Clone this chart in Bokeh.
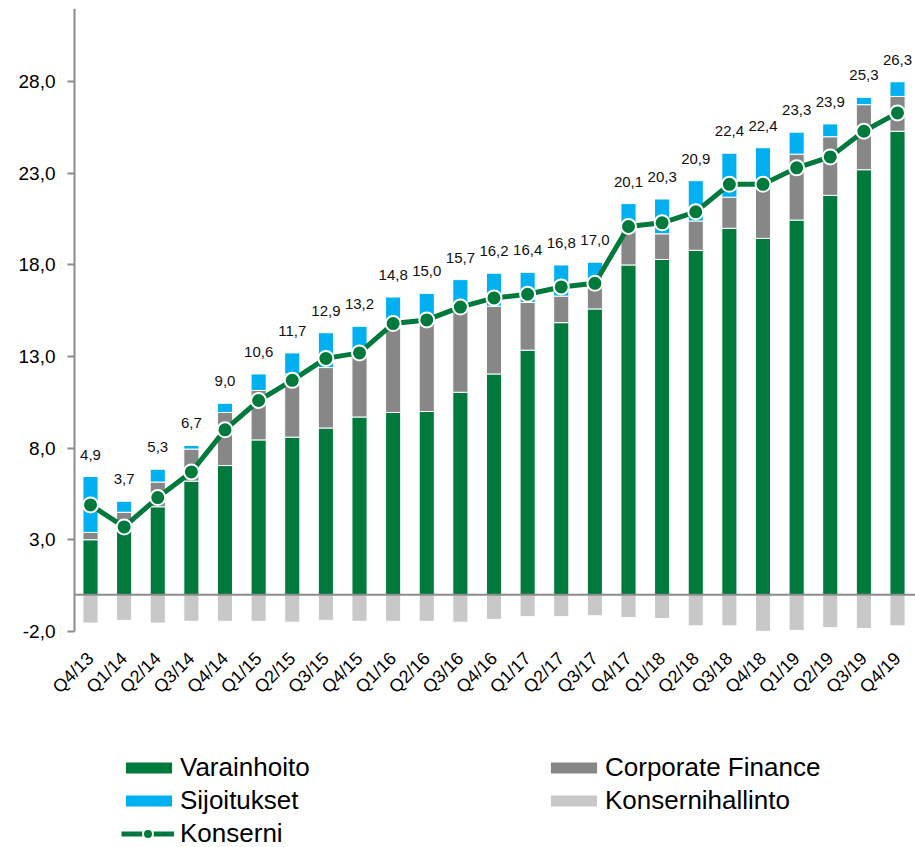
import math
import numpy as np
from bokeh.plotting import figure
from bokeh.models import Range1d, FixedTicker, Legend, LegendItem
from bokeh.core.properties import value
from bokeh.embed import file_html
from bokeh.resources import INLINE

quarters = ["Q4/13", "Q1/14", "Q2/14", "Q3/14", "Q4/14", "Q1/15", "Q2/15", "Q3/15",
            "Q4/15", "Q1/16", "Q2/16", "Q3/16", "Q4/16", "Q1/17", "Q2/17", "Q3/17",
            "Q4/17", "Q1/18", "Q2/18", "Q3/18", "Q4/18", "Q1/19", "Q2/19", "Q3/19", "Q4/19"]
varainhoito = [3.0, 4.0, 4.8, 6.2, 7.05, 8.45, 8.6, 9.1, 9.7, 9.95, 10.0, 11.05, 12.05,
               13.35, 14.85, 15.6, 18.0, 18.3, 18.8, 20.0, 19.45, 20.45, 21.8, 23.2, 25.3]
corporate_finance = [0.4, 0.5, 1.35, 1.75, 2.9, 2.7, 3.45, 3.3, 3.45, 4.7, 4.95, 4.6, 3.7,
                     2.6, 1.45, 1.25, 1.95, 1.4, 1.6, 1.7, 3.0, 3.6, 3.2, 3.55, 1.9]
sijoitukset = [3.05, 0.6, 0.7, 0.2, 0.5, 0.9, 1.15, 1.9, 1.5, 1.6, 1.5, 1.55, 1.8,
               1.65, 1.7, 1.3, 1.4, 1.9, 2.2, 2.4, 1.95, 1.2, 0.7, 0.4, 0.8]
konsernihallinto = [-1.55, -1.4, -1.55, -1.45, -1.45, -1.45, -1.5, -1.4, -1.45, -1.45, -1.45,
                    -1.5, -1.35, -1.2, -1.2, -1.15, -1.25, -1.3, -1.7, -1.7, -2.0, -1.95,
                    -1.8, -1.85, -1.7]
konserni = [4.9, 3.7, 5.3, 6.7, 9.0, 10.6, 11.7, 12.9, 13.2, 14.8, 15.0, 15.7, 16.2,
            16.4, 16.8, 17.0, 20.1, 20.3, 20.9, 22.4, 22.4, 23.3, 23.9, 25.3, 26.3]
y_ticks = [-2, 3, 8, 13, 18, 23, 28]
y_top = 32

GREEN = "#00793D"
GREY = "#878787"
BLUE = "#00B0F0"
LIGHT = "#C8C8C8"
AXIS = "#8C8C8C"
FONT = "Liberation Sans"

x = np.arange(len(quarters))
g = np.array(varainhoito)
c = np.array(corporate_finance)
s = np.array(sijoitukset)
k = np.array(konsernihallinto)
top_c = g + c
top_s = g + c + s
labels = [f"{v:.1f}".replace(".", ",") for v in konserni]

# category spacing ~33.6 px; y axis sits half a slot left of the first bar
axis_x = -0.476
x_start = axis_x - 74 / 33.625
x_end = 24.535

p = figure(width=915, height=847, x_range=Range1d(x_start, x_end), y_range=Range1d(-13.8, y_top),
           output_backend="svg", toolbar_location=None,
           min_border_left=0, min_border_right=0, min_border_top=8, min_border_bottom=0)
p.outline_line_color = None
p.xgrid.visible = False
p.ygrid.visible = False

bw = 0.45
rg = p.vbar(x=x, width=bw, bottom=0, top=g, fill_color=GREEN, line_color="white", line_width=1)
rc = p.vbar(x=x, width=bw, bottom=g, top=top_c, fill_color=GREY, line_color="white", line_width=1)
rs = p.vbar(x=x, width=bw, bottom=top_c, top=top_s, fill_color=BLUE, line_color="white", line_width=1)
rk = p.vbar(x=x, width=bw, bottom=0, top=k, fill_color=LIGHT, line_color="white", line_width=1)

# zero baseline from the y axis to the right edge
p.segment(x0=[axis_x], y0=[0], x1=[x_end], y1=[0], line_color=AXIS, line_width=2)

rl = p.line(x, konserni, line_color=GREEN, line_width=5)
rm = p.scatter(x, konserni, size=15, fill_color=GREEN, line_color="white", line_width=2)

p.text(x, top_s, text=labels, text_align="center", text_baseline="bottom", y_offset=-17,
       text_font=value(FONT), text_font_size="15px", text_color="#111111")

yax = p.yaxis[0]
yax.fixed_location = axis_x
yax.ticker = FixedTicker(ticks=y_ticks)
yax.bounds = (y_ticks[0], y_top)
yax.major_label_overrides = {t: f"{t:.1f}".replace(".", ",") for t in y_ticks}
yax.axis_line_color = AXIS
yax.axis_line_width = 2
yax.major_tick_line_color = AXIS
yax.major_tick_line_width = 2
yax.major_tick_out = 7
yax.major_tick_in = 0
yax.minor_tick_line_color = None
yax.major_label_standoff = 12
yax.major_label_text_font = FONT
yax.major_label_text_font_size = "19px"
yax.major_label_text_color = "black"

xax = p.xaxis[0]
xax.fixed_location = y_ticks[0]
xax.ticker = FixedTicker(ticks=list(range(len(quarters))))
xax.major_label_overrides = {i: q for i, q in enumerate(quarters)}
xax.axis_line_color = None
xax.major_tick_line_color = None
xax.minor_tick_line_color = None
xax.major_label_orientation = math.pi / 4
xax.major_label_standoff = 18
xax.major_label_text_font = FONT
xax.major_label_text_font_size = "18px"
xax.major_label_text_color = "black"

def make_legend(items, loc, gw=59, gh=15, standoff=2):
    return Legend(items=items, location=loc, orientation="vertical",
                  glyph_width=gw, glyph_height=gh, label_standoff=standoff, label_height=33,
                  spacing=0, padding=0, margin=0, border_line_color=None,
                  background_fill_alpha=0, label_text_font=FONT,
                  label_text_font_size="26px", label_text_color="black")

leg1 = make_legend([LegendItem(label="Varainhoito", renderers=[rg]),
                    LegendItem(label="Sijoitukset", renderers=[rs])], (119, 30))
leg2 = make_legend([LegendItem(label="Corporate Finance", renderers=[rc]),
                    LegendItem(label="Konsernihallinto", renderers=[rk])], (544, 30))
leg3 = make_legend([LegendItem(label="Konserni", renderers=[rl, rm])], (121, -3),
                   gw=53, gh=25, standoff=6)
p.add_layout(leg1)
p.add_layout(leg2)
p.add_layout(leg3)

open("out.html", "w").write(file_html(p, INLINE))
